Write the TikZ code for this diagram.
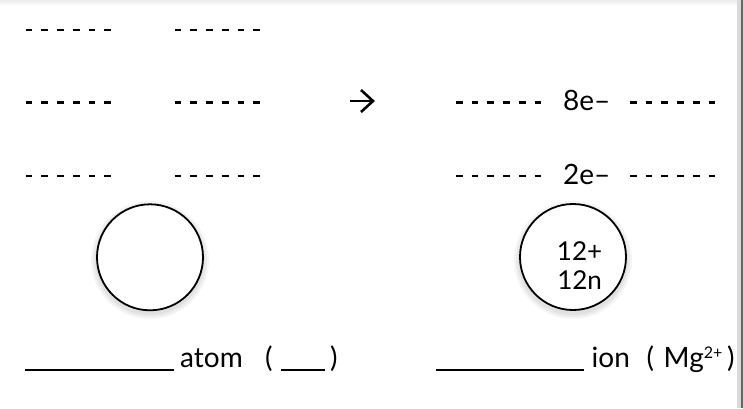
\documentclass[tikz,border=0pt]{standalone}
\usepackage{fontspec}
\setmainfont{Lato}
\begin{document}
\begin{tikzpicture}[x=1pt,y=-1pt,
  shelldash/.style={line width=2.6pt,dash pattern=on 6.7pt off 9pt},
  blank/.style={line width=1.5pt},
  nucleus/.style={draw,circle,line width=1.8pt,minimum size=106pt,inner sep=0pt,fill=white},
  lbl/.style={inner sep=0pt,anchor=base west,font=\fontsize{28}{32}\selectfont},
  ctext/.style={inner sep=0pt,anchor=base,font=\fontsize{26}{30}\selectfont}]
\useasboundingbox (0,0) rectangle (743,408);
\fill[white] (0,0) rectangle (743,408);
\shade[top color=gray!15,bottom color=white] (0,0) rectangle (743,6);
\fill[gray!30] (737,0) rectangle (743,408);
\fill[gray!80!black] (740.5,0) rectangle (743,408);
% left dashed shells
\foreach \y/\n in {30/a,102.5/b,176/c}{
  \coordinate (L1\n) at (25.7,\y); \coordinate (L1\n e) at (113,\y);
  \coordinate (L2\n) at (174.7,\y); \coordinate (L2\n e) at (262,\y);
  \draw[shelldash] (L1\n) -- (L1\n e);
  \draw[shelldash] (L2\n) -- (L2\n e);
}
% arrow
\coordinate (as) at (350,101); \coordinate (ae) at (373,101);
\draw[line width=2.6pt] (as) -- (ae);
\draw[line width=2.6pt,line join=miter] (361,90) -- (ae) -- (361,112);
% right dashed shells
\foreach \y/\n in {102.5/b,176/c}{
  \coordinate (R1\n) at (456,\y); \coordinate (R1\n e) at (544,\y);
  \coordinate (R2\n) at (630,\y); \coordinate (R2\n e) at (715,\y);
  \draw[shelldash] (R1\n) -- (R1\n e);
  \draw[shelldash] (R2\n) -- (R2\n e);
}
\node[lbl] (e8) at (563,110) {8e–};
\node[lbl] (e2) at (563,184) {2e–};
% shadows
\foreach \c in {150,573}{
  \foreach \r in {2,4,6}{
    \fill[black,opacity=0.04] (\c,260) circle ({53+\r});
  }
}
\node[nucleus] (atomc) at (150,257.3) {};
\node[nucleus] (ionc) at (573,257) {};
\node[ctext] (p) at (579.6,260) {12+};
\node[ctext] (n) at (579.6,289) {12n};
% bottom labels
\coordinate (u1s) at (25,370); \coordinate (u1e) at (173.5,370);
\draw[blank] (u1s) -- (u1e);
\node[lbl] (atomt) at (180,367) {atom};
\node[lbl] (lp1) at (265,367) {(};
\coordinate (u2s) at (281,370); \coordinate (u2e) at (324.5,370);
\draw[blank] (u2s) -- (u2e);
\node[lbl] (rp1) at (330,367) {)};
\coordinate (u3s) at (436,370); \coordinate (u3e) at (584,370);
\draw[blank] (u3s) -- (u3e);
\node[lbl] (iont) at (591.5,367) {ion};
\node[lbl] (lp2) at (646.5,367) {(};
\node[lbl] (mg) at (663.5,367) {Mg\raisebox{9pt}{\fontsize{16}{18}\selectfont 2+}};
\node[lbl] (rp2) at (727,367) {)};
\end{tikzpicture}
\end{document}
